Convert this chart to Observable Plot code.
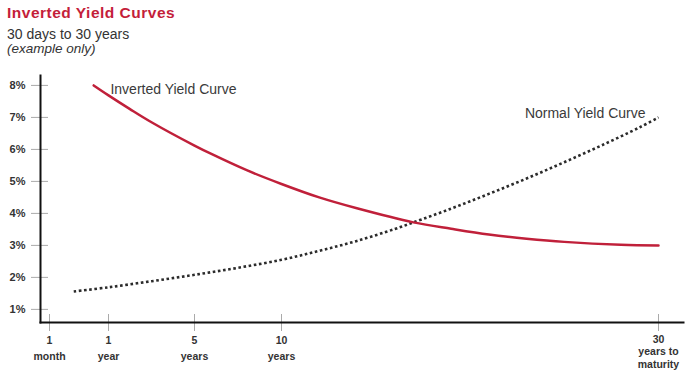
<!DOCTYPE html>
<html><head><meta charset="utf-8">
<script src="https://cdn.jsdelivr.net/npm/d3@7"></script>
<script src="https://cdn.jsdelivr.net/npm/@observablehq/plot@0.6"></script>
<style>
body{margin:0;background:#fff;font-family:"Liberation Sans",Arial,sans-serif;}
#wrap{position:relative;width:685px;height:373px;overflow:hidden;}
#head{position:relative;height:58px;}
.t{position:absolute;left:7px;line-height:1;white-space:nowrap;}
#chart svg g[aria-label$="tick label"]{font-weight:bold;}
</style></head><body>
<div id="wrap">
<div id="head">
<div class="t" style="top:5px;font-size:15.5px;font-weight:bold;color:#c41e3a;letter-spacing:0.5px">Inverted Yield Curves</div>
<div class="t" style="top:27px;font-size:14px;color:#333">30 days to 30 years</div>
<div class="t" style="top:42px;font-size:13.5px;font-style:italic;color:#333">(example only)</div>
</div>
<div id="chart"></div>
</div>
<script>
// Axis ticks (maturity in years, yield in %)
const maturityTicks = [1/12, 1, 5, 10, 30];
const maturityTickLabels = ["1\nmonth", "1\nyear", "5\nyears", "10\nyears", "30\nyears to\nmaturity"];
const yieldTicks = [1, 2, 3, 4, 5, 6, 7, 8];

// Inverted yield curve
const invertedMaturity = [0.77, 1, 2, 3, 5, 6, 8, 10, 12, 14, 17, 19, 21, 23, 25, 28, 30];
const invertedYield    = [8.00, 7.69, 7.26, 6.85, 6.12, 5.85, 5.35, 4.92, 4.50, 4.16, 3.72, 3.52, 3.34, 3.21, 3.11, 3.02, 3.00];

// Normal yield curve
const normalMaturity = [0.46, 1, 3, 5, 7.5, 10, 12, 14, 16, 17, 19, 21, 23, 25, 27, 29, 30];
const normalYield    = [1.56, 1.69, 1.88, 2.08, 2.30, 2.55, 2.83, 3.14, 3.51, 3.72, 4.15, 4.61, 5.09, 5.60, 6.13, 6.69, 7.00];

// Curve labels
const invertedLabel = {name: "Inverted Yield Curve", m: 1.09, y: 7.88};
const normalLabel = {name: "Normal Yield Curve", m: 29.31, y: 7.11};

const inverted = invertedMaturity.map((m, i) => ({m, y: invertedYield[i]}));
const normal = normalMaturity.map((m, i) => ({m, y: normalYield[i]}));
const tickLabel = new Map(maturityTicks.map((t, i) => [t, maturityTickLabels[i]]));

const xAxisCommon = {
  tickFormat: d => tickLabel.get(d), tickSize: 17, tickPadding: 2, dy: -8,
  stroke: "#aaa", fill: "#333", fontSize: 10.5, label: null
};

const chart = Plot.plot({
  width: 685,
  height: 315,
  marginLeft: 40,
  marginRight: 2,
  marginTop: 17,
  marginBottom: 51,
  x: {type: "linear", domain: maturityTicks, range: [49, 108, 194, 281, 658]},
  y: {domain: [0.59, 8.31]},
  style: {fontFamily: "'Liberation Sans', Arial, sans-serif", color: "#333", background: "#fff", overflow: "visible"},
  marks: [
    Plot.axisY(yieldTicks, {
      tickFormat: d => d + "%", tickSize: 17, tickPadding: 6, dx: 8,
      stroke: "#aaa", fill: "#333", fontSize: 11, label: null
    }),
    Plot.axisX(maturityTicks.slice(0, 4), {...xAxisCommon, lineHeight: 1.45}),
    Plot.axisX(maturityTicks.slice(4), {...xAxisCommon, lineHeight: 1.22}),
    Plot.frame({anchor: "left", stroke: "#111", strokeWidth: 2}),
    Plot.frame({anchor: "bottom", stroke: "#111", strokeWidth: 2}),
    Plot.line(normal, {x: "m", y: "y", curve: "catmull-rom", stroke: "#2b2b2b", strokeWidth: 2.6, strokeLinecap: "butt", strokeDasharray: "2.6 2.6"}),
    Plot.line(inverted, {x: "m", y: "y", curve: "catmull-rom", stroke: "#c0203a", strokeWidth: 2.5}),
    Plot.text([invertedLabel], {x: "m", y: "y", text: "name", textAnchor: "start", fontSize: 14, fill: "#3a3a3a"}),
    Plot.text([normalLabel], {x: "m", y: "y", text: "name", textAnchor: "end", fontSize: 14, fill: "#3a3a3a"})
  ]
});
document.getElementById("chart").appendChild(chart);
</script>
</body></html>
